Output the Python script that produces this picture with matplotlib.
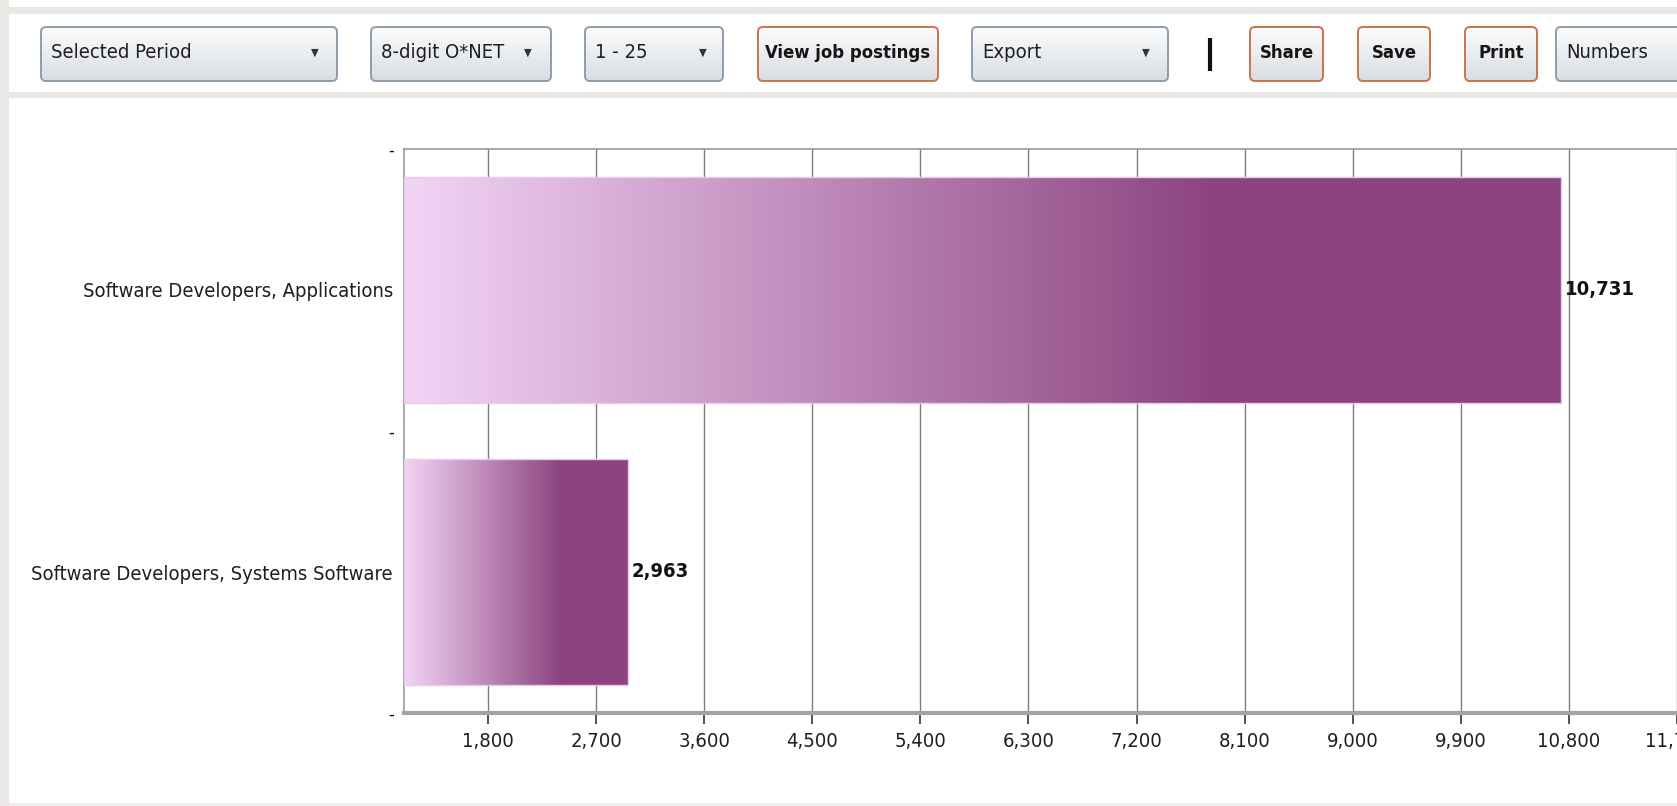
import numpy as np
import matplotlib
matplotlib.use("Agg")
import matplotlib.pyplot as plt
from matplotlib.patches import FancyBboxPatch, Rectangle
from matplotlib.colors import to_rgb

plt.rcParams['font.family'] = ['DejaVu Sans']
plt.rcParams['font.stretch'] = 'condensed'

# occupations and their job posting counts
occupations = ["Software Developers, Applications",
               "Software Developers, Systems Software"]
postings = [10731, 2963]
x_ticks = [1800, 2700, 3600, 4500, 5400, 6300, 7200, 8100, 9000, 9900, 10800, 11700, 12600]

# toolbar controls: (label, kind)
controls = [("Selected Period", "drop"), ("8-digit O*NET", "drop"), ("1 - 25", "drop"),
            ("View job postings", "button"), ("Export", "drop"),
            ("Share", "button"), ("Save", "button"), ("Print", "button"),
            ("Numbers", "drop")]

W, H = 1677, 806
fig = plt.figure(figsize=(W / 100, H / 100), dpi=100, facecolor="white")

# ---------- toolbar (pixel coordinates) ----------
ui = fig.add_axes([0, 0, 1, 1])
ui.set_xlim(0, W)
ui.set_ylim(H, 0)
ui.axis("off")

ui.add_patch(Rectangle((0, 0), 9, H, color="#ebe7e5", lw=0))
ui.add_patch(Rectangle((9, 7), W, 7, color="#e9e6e6", lw=0))
ui.add_patch(Rectangle((9, 92), W, 6, color="#e9e6e6", lw=0))
ui.add_patch(Rectangle((9, 803), W, 3, color="#efeded", lw=0))

boxes = [(41, 337, 315), (371, 551, 528), (585, 723, 703), (758, 938, None),
         (972, 1168, 1146), (1250, 1323, None), (1358, 1430, None),
         (1465, 1537, None), (1556, 1700, None)]
grad = np.linspace(0, 1, 64).reshape(-1, 1)
top_c, bot_c = np.array(to_rgb("#fbfcfc")), np.array(to_rgb("#d9dde2"))
grad_img = top_c + (bot_c - top_c) * grad[..., None]
grad_img = grad_img.reshape(64, 1, 3)

for (label, kind), (x0, x1, arrow_x) in zip(controls, boxes):
    y0, y1 = 27, 81
    edge = "#c9744c" if kind == "button" else "#8e9dab"
    box = FancyBboxPatch((x0, y0), x1 - x0, y1 - y0,
                         boxstyle="round,pad=0,rounding_size=5",
                         fc="none", ec=edge, lw=1.4, zorder=3)
    ui.add_patch(box)
    im = ui.imshow(grad_img, extent=[x0, x1, y1, y0], aspect="auto", zorder=2)
    im.set_clip_path(box)
    if kind == "button":
        ui.text((x0 + x1) / 2, 53, label, ha="center", va="center",
                fontsize=13.2, fontweight="bold", color="#151515", zorder=4)
    else:
        ui.text(x0 + 10, 53, label, ha="left", va="center",
                fontsize=14.5, color="#1e1e1e", zorder=4)
    if arrow_x is not None:
        ui.text(arrow_x, 53, "\u25bc", ha="center", va="center",
                fontsize=8, color="#333333", zorder=4)

ui.plot([1210, 1210], [38, 71], color="#111111", lw=3, solid_capstyle="butt")

# ---------- chart ----------
ax_left, ax_right = 404, 1785
ax_top, ax_bottom = 149, 713
ax = fig.add_axes([ax_left / W, (H - ax_bottom) / H,
                   (ax_right - ax_left) / W, (ax_bottom - ax_top) / H])
ax.set_xlim(1100, 12600)
ax.set_ylim(2, 0)

pos = np.arange(len(occupations)) + 0.5
light = np.array(to_rgb("#f3d4f6"))
dark = np.array(to_rgb("#8c4480"))
x_start = ax.get_xlim()[0]
for y, v in zip(pos, postings):
    t = np.clip(np.linspace(0, 1, 400) / 0.7, 0, 1)
    img = (light + (dark - light) * t[:, None])[None, :, :]
    ax.imshow(img, extent=[x_start, v, y + 0.4, y - 0.4], aspect="auto",
              interpolation="bilinear", zorder=3)
    ax.add_patch(Rectangle((x_start, y - 0.4), v - x_start, 0.8, fc="none",
                           ec="#e8cbe8", lw=1, zorder=4))
    ax.text(v + 35, y, f"{v:,}", ha="left", va="center", fontsize=14.5,
            fontweight="bold", color="#111111", zorder=5)
ax.set_xlim(1100, 12600)
ax.set_ylim(2, 0)

ax.set_xticks(x_ticks)
ax.set_xticklabels([f"{t:,}" for t in x_ticks])
ax.grid(axis="x", color="#7d7d7d", lw=1.0)
ax.set_axisbelow(True)
ax.tick_params(axis="x", length=8, width=1.2, color="#333333", pad=6,
               labelsize=14.5, labelcolor="#1e1e1e")

ax.set_yticks(pos)
ax.set_yticklabels(occupations)
ax.set_yticks([0, 1, 2], minor=True)
ax.set_yticklabels(["-", "-", "-"], minor=True)
ax.tick_params(axis="y", which="major", length=0, pad=8, labelsize=14.5,
               labelcolor="#1e1e1e")
ax.tick_params(axis="y", which="minor", length=0, pad=7, labelsize=13,
               labelcolor="#111111")

for side in ("top", "left"):
    ax.spines[side].set_color("#999999")
    ax.spines[side].set_linewidth(1.2)
ax.spines["bottom"].set_color("#a3a3a3")
ax.spines["bottom"].set_linewidth(3)
ax.spines["right"].set_visible(False)

fig.savefig("out.png", dpi=100, facecolor="white")
